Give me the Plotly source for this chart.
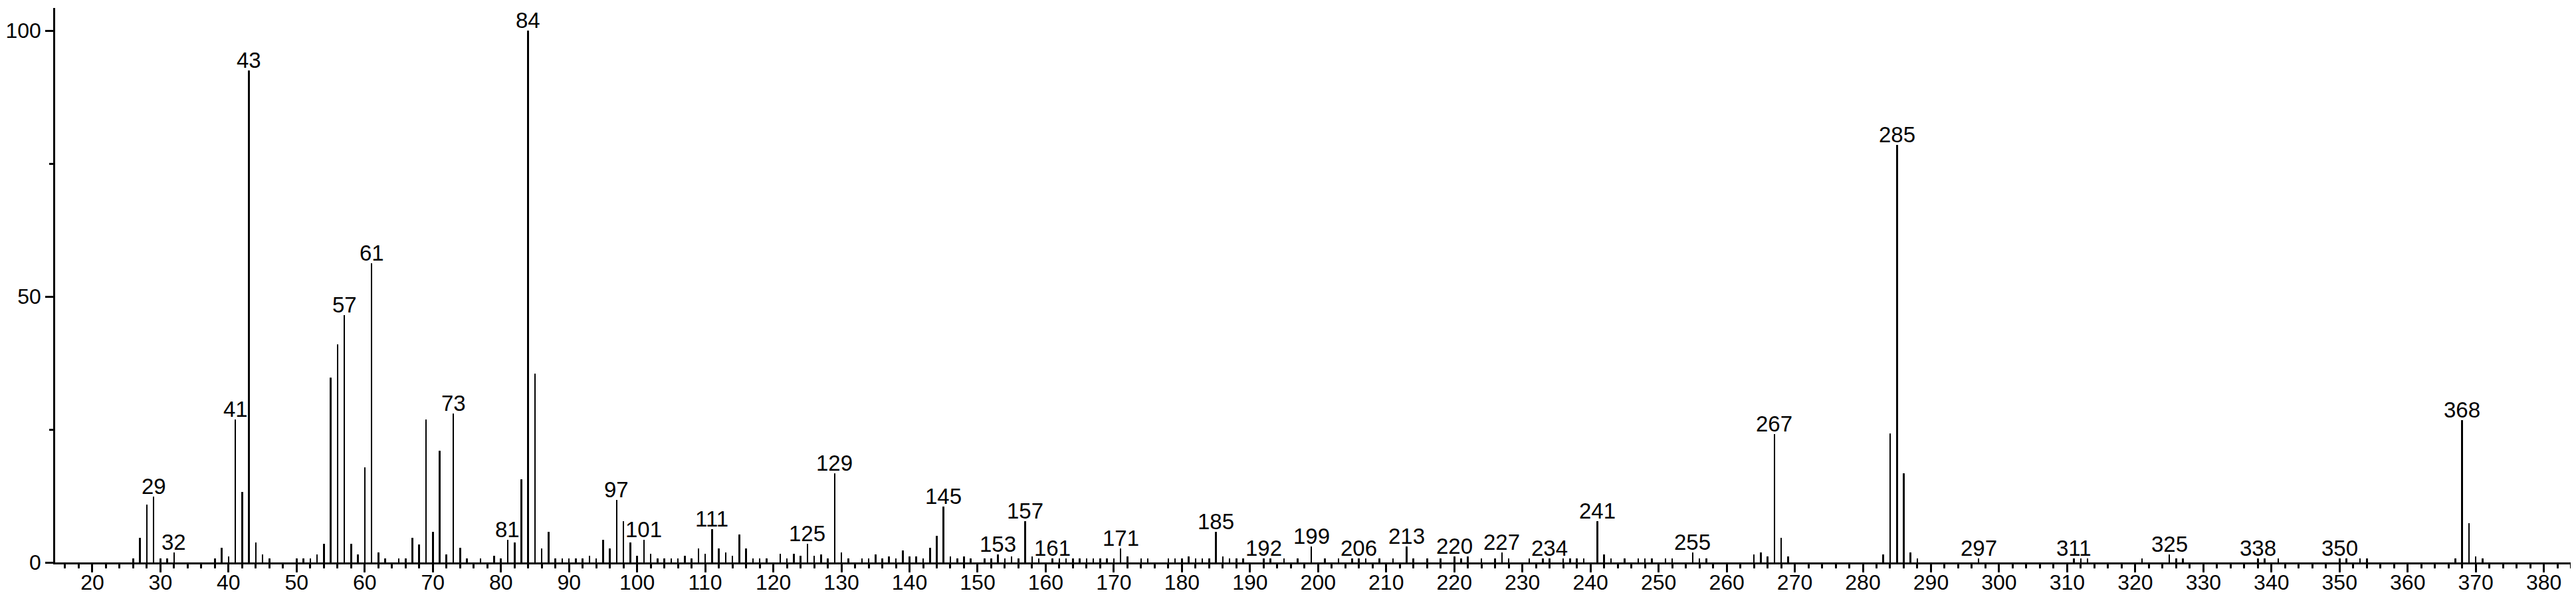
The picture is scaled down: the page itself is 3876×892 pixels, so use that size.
import plotly.graph_objects as go

mz = [26, 27, 28, 29, 30, 31, 32, 38, 39, 40, 41, 42, 43, 44, 45, 46, 50, 51, 52, 53,
      54, 55, 56, 57, 58, 59, 60, 61, 62, 63, 65, 66, 67, 68, 69, 70, 71, 72, 73, 74,
      75, 77, 79, 80, 81, 82, 83, 84, 85, 86, 87, 88, 89, 90, 91, 92, 93, 94, 95, 96,
      97, 98, 99, 100, 101, 102, 103, 104, 105, 106, 107, 108, 109, 110, 111, 112, 113, 114, 115, 116,
      117, 118, 119, 121, 122, 123, 124, 125, 126, 127, 128, 129, 130, 131, 133, 134, 135, 136, 137, 138,
      139, 140, 141, 142, 143, 144, 145, 146, 147, 148, 149, 151, 152, 153, 154, 155, 156, 157, 158, 159,
      161, 162, 163, 164, 165, 166, 167, 168, 169, 170, 171, 172, 174, 175, 178, 179, 180, 181, 182, 183,
      184, 185, 186, 187, 188, 189, 192, 193, 195, 197, 199, 201, 203, 205, 206, 207, 209, 211, 213, 214,
      216, 218, 220, 221, 222, 224, 226, 227, 228, 231, 233, 234, 236, 237, 238, 239, 241, 242, 243, 245,
      247, 248, 249, 251, 252, 255, 256, 257, 264, 265, 266, 267, 268, 269, 283, 284, 285, 286, 287, 288,
      297, 311, 312, 313, 321, 325, 326, 327, 338, 339, 341, 350, 351, 353, 354, 367, 368, 369, 370, 371]

intensity = [0.7, 4.6, 10.9, 12.4, 0.7, 0.7, 1.9, 0.7, 2.7, 1.1, 26.9, 13.2, 92.5, 3.8, 1.5, 0.7, 0.7, 0.7, 0.7, 1.5,
             3.5, 34.7, 41.0, 46.5, 3.5, 1.5, 17.9, 56.2, 1.9, 0.7, 0.7, 0.7, 4.6, 3.4, 26.9, 5.8, 21.0, 1.5, 28.0, 2.7,
             0.7, 0.7, 1.2, 0.7, 4.2, 3.8, 15.6, 100.0, 35.5, 2.6, 5.8, 0.7, 0.7, 0.7, 0.7, 0.7, 1.2, 0.7, 4.2, 2.6,
             11.7, 7.8, 3.8, 1.2, 4.2, 1.6, 0.7, 0.7, 0.7, 0.7, 1.2, 0.7, 2.6, 1.6, 6.2, 2.6, 1.9, 1.2, 5.3, 2.6,
             0.7, 0.7, 0.7, 1.6, 0.7, 1.6, 1.2, 3.5, 1.3, 1.5, 0.7, 16.7, 1.9, 0.7, 0.7, 0.7, 1.5, 0.7, 1.1, 0.7,
             2.3, 1.1, 1.1, 0.7, 2.7, 5.0, 10.5, 1.1, 0.7, 1.1, 0.7, 0.7, 0.7, 1.5, 0.7, 1.1, 0.7, 7.7, 1.1, 0.7,
             0.7, 0.7, 0.7, 0.7, 0.7, 0.7, 0.7, 0.7, 0.7, 0.7, 2.6, 1.1, 0.7, 0.7, 0.7, 0.7, 0.7, 1.1, 0.7, 0.7,
             0.7, 5.8, 1.1, 0.7, 0.7, 0.7, 0.7, 0.7, 0.7, 0.7, 3.0, 0.7, 0.7, 0.7, 0.7, 0.7, 0.7, 0.7, 3.0, 0.7,
             0.7, 0.7, 1.1, 0.7, 1.1, 0.7, 0.7, 1.9, 0.7, 0.7, 0.7, 0.7, 0.7, 0.7, 0.7, 0.7, 7.7, 1.5, 0.7, 0.7,
             0.7, 0.7, 0.7, 0.7, 0.7, 1.9, 0.7, 0.7, 1.5, 1.9, 1.1, 24.1, 4.6, 1.1, 1.5, 24.2, 78.5, 16.7, 1.9, 0.7,
             0.7, 0.7, 0.7, 0.7, 0.7, 1.5, 0.7, 0.7, 0.7, 0.7, 0.7, 0.7, 0.7, 0.7, 0.7, 0.7, 26.8, 7.4, 1.1, 0.7]

labeled_peaks = [29, 32, 41, 43, 57, 61, 73, 81, 84, 97, 101, 111, 125, 129, 145, 153, 157, 161,
                 171, 185, 192, 199, 206, 213, 220, 227, 234, 241, 255, 267, 285, 297, 311, 325,
                 338, 350, 368]

y_ticks = [0, 50, 100]

FONT = "Liberation Sans, Arial, sans-serif"

fig = go.Figure()
fig.add_trace(go.Bar(x=mz, y=intensity, width=0.25,
                     marker=dict(color="black", line=dict(width=0)),
                     showlegend=False))

lookup = dict(zip(mz, intensity))
for p in labeled_peaks:
    fig.add_annotation(x=p, y=lookup.get(p, 0.7), text=str(p), showarrow=False,
                       xanchor="center", yanchor="bottom", yshift=-5,
                       font=dict(family=FONT, size=33, color="black"))

fig.update_layout(
    width=3876, height=892,
    margin=dict(l=70, r=0, t=4, b=54),
    paper_bgcolor="white", plot_bgcolor="white",
    bargap=0,
    font=dict(family=FONT, size=32, color="black"),
    xaxis=dict(range=[14.54, 385.5], showline=True, linecolor="black", linewidth=2.5,
               ticks="outside", ticklen=12, tickwidth=2.5, tickcolor="black",
               tick0=0, dtick=10, showgrid=False, zeroline=False,
               ticklabelstandoff=-12,
               minor=dict(ticks="outside", ticklen=6, tickwidth=2.5, tickcolor="black",
                          dtick=2, tick0=0, showgrid=False),
               tickfont=dict(family=FONT, size=32, color="black")),
    yaxis=dict(range=[0, 104.25], showline=True, linecolor="black", linewidth=2.5,
               ticks="outside", ticklen=12, tickwidth=2.5, tickcolor="black",
               tickvals=y_ticks, showgrid=False, zeroline=False,
               minor=dict(ticks="outside", ticklen=6, tickwidth=2.5, tickcolor="black",
                          dtick=25, tick0=0, showgrid=False),
               tickfont=dict(family=FONT, size=32, color="black")),
)

fig.write_html("out.html")
